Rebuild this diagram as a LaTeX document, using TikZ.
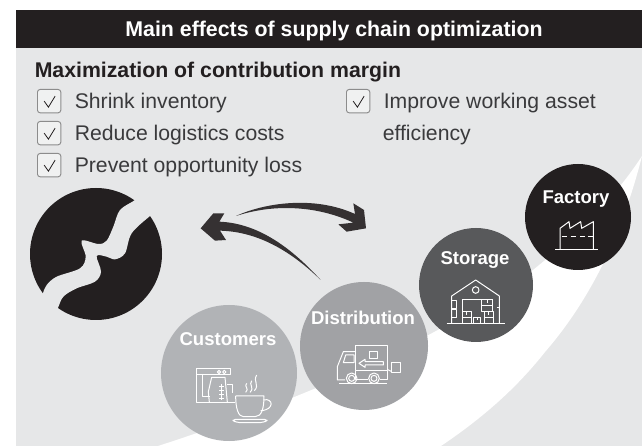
\documentclass[tikz,border=0pt]{standalone}
\usepackage{fontspec}
\usetikzlibrary{calc}
\setmainfont{Liberation Sans}
\definecolor{bggrey}{HTML}{E6E7E8}
\definecolor{ink}{HTML}{231F20}
\definecolor{txt}{HTML}{3A3A3C}
\definecolor{cust}{HTML}{B1B3B6}
\definecolor{dist}{HTML}{A1A2A5}
\definecolor{stor}{HTML}{58595B}
\tikzset{
 x=0.75pt,y=-0.75pt,
 box/.style={draw=black!45,fill=bggrey!60,line width=0.7pt,rounded corners=2pt,minimum size=17.5pt,inner sep=0pt},
 chk/.style={draw=ink,line width=0.6pt},
 item/.style={anchor=base west,inner sep=0pt,font=\fontsize{15.9pt}{18pt}\selectfont,text=txt},
 stage/.style={circle,inner sep=0pt},
 stagetext/.style={inner sep=0pt,text=white,font=\bfseries\fontsize{13.9pt}{15pt}\selectfont},
 ico/.style={draw=white,line width=0.75pt,line join=round},
 zoomed/.style={x=0.25pt,y=-0.25pt},
}
\begin{document}
\begin{tikzpicture}
\useasboundingbox (0,0) rectangle (642,448);
\fill[bggrey] (16,48) rectangle (642,446);
% white swoosh
\fill[white] (155,447) .. controls (300,400) and (430,345) .. (533,270)
  .. controls (570,240) and (610,205) .. (642,156)
  .. controls (622,235) and (590,300) .. (545,352)
  .. controls (515,390) and (480,420) .. (438,448) -- cycle;
\fill[ink] (16,10) rectangle (642,48);
\node[inner sep=0pt,text=white,font=\bfseries\fontsize{16pt}{18pt}\selectfont] (title) at (334,30.5) {Main effects of supply chain optimization};
\node[anchor=base west,inner sep=0pt,text=ink,font=\bfseries\fontsize{15.95pt}{18pt}\selectfont] (head) at (34.5,78) {Maximization of contribution margin};
% checklist
\foreach \n/\x/\y/\t in {a/37/89/Shrink inventory,b/37/121/Reduce logistics costs,c/37/153/Prevent opportunity loss,d/346/89/Improve working asset}{
 \node[box,anchor=north west] (\n) at (\x,\y) {};
 \draw[chk] ($(\n.center)+(-5,0)$) -- ($(\n.center)+(-0.7,6)$) -- ($(\n.center)+(6,-5)$);
 \node[item] (t\n) at (\x+37.5,\y+19.5) {\t};
}
\node[item] (te) at (382.5,140.5) {efficiency};
% blob
\fill[ink] (96,254) circle (66);
\begin{scope}[shift={(20,200)},zoomed]
\fill[bggrey] plot[smooth,tension=0.55] coordinates {(370,-25)(345,0)(300,30)(280,80)(260,122)(235,132)(185,122)(197,170)(180,205)(110,230)(80,255)(68,282)(55,320)}
 -- plot[smooth,tension=0.55] coordinates {(95,350)(113,325)(130,290)(170,265)(225,245)(243,215)(230,168)(260,170)(285,178)(315,160)(335,100)(390,48)(440,10)} -- cycle;
\end{scope}
% arrows
\begin{scope}[shift={(180,190)},zoomed]
\fill[ink!92!white] (168,78) .. controls (250,40) and (400,15) .. (525,72) -- (520,40) -- (552,60) -- (558,115) -- (500,125) -- (475,103) -- (520,98) .. controls (430,55) and (300,35) .. (168,78) -- cycle;
\fill[ink!92!white] (62,115) -- (100,70) -- (133,70) -- (118,95) .. controls (240,100) and (340,180) .. (422,270) .. controls (340,190) and (240,125) .. (120,122) -- (138,150) -- (105,152) -- cycle;
\end{scope}
% stages
\node[stage,fill=cust,minimum size=102pt] (cus) at (229,373) {};
\node[stage,fill=dist,minimum size=96pt] (dis) at (364,346) {};
\node[stage,fill=stor,minimum size=85.5pt] (sto) at (476,285) {};
\node[stage,fill=ink,minimum size=79.5pt] (fac) at (578,217) {};
\node[stagetext] (lc) at (228,339.5) {Customers};
\node[stagetext] (ld) at (363,318) {Distribution};
\node[stagetext] (ls) at (475,260) {Storage};
\node[stagetext] (lf) at (576,199.5) {Factory};
% coffee icon
\begin{scope}[shift={(190,360)},zoomed,ico]
\draw (135,127) -- (20,127) -- (20,27) -- (120,27) -- (120,45) -- (20,45);
\draw (37,45) -- (37,110) -- (60,110);
\draw (87,36) circle (5) (103,36) circle (5);
\draw (65,52) -- (105,52) -- (112,127) (65,52) -- (55,95) -- (58,127);
\draw (110,75) -- (127,75) -- (127,100);
\draw (95,72) -- (95,120) (88,80) -- (102,80) (88,92) -- (102,92) (88,104) -- (102,104) (88,116) -- (102,116);
\draw (137,108) -- (222,108) .. controls (222,145) and (215,170) .. (195,170) -- (160,170) .. controls (145,170) and (137,145) .. (137,108);
\draw (220,120) .. controls (250,112) and (255,150) .. (212,152);
\draw[rounded corners=3pt] (125,178) -- (235,178) -- (222,188) -- (138,188) -- cycle;
\draw (170,70) .. controls (160,80) and (180,85) .. (167,97);
\draw (185,62) .. controls (175,75) and (195,82) .. (180,97);
\draw (200,45) .. controls (188,65) and (210,75) .. (193,92);
\end{scope}
% truck icon
\begin{scope}[shift={(330,340)},zoomed,ico]
\draw (77,17) rectangle (172,92);
\draw (118,35) rectangle (143,55);
\draw (87,70) -- (105,58) -- (105,65) -- (160,65) -- (160,75) -- (105,75) -- (105,82) -- cycle;
\draw (77,35) -- (40,35) -- (22,80) -- (22,120) -- (45,120);
\draw (47,45) -- (72,45) -- (72,68) -- (40,68) -- cycle;
\draw (65,115) circle (16) (65,115) circle (9) (132,115) circle (16) (132,115) circle (9);
\draw (77,92) -- (77,118) -- (115,118) (150,118) -- (172,118) -- (172,92);
\draw (27,132) -- (172,132);
\draw (185,68) rectangle (210,97);
\draw (172,88) -- (185,95);
\end{scope}
% warehouse icon
\begin{scope}[shift={(440,270)},zoomed,ico]
\draw (35,160) -- (35,78) -- (107,30) -- (178,78) -- (178,160);
\draw (20,160) -- (195,160);
\draw (107,60) circle (10);
\draw (67,160) -- (67,88) -- (160,88);
\draw (35,92) rectangle (50,115) (35,120) rectangle (50,143);
\draw (125,88) rectangle (158,125) (125,106) -- (158,106) (142,88) -- (142,100);
\draw (68,125) rectangle (93,160) (68,142) -- (93,142) (80,125) -- (80,135);
\draw (100,142) rectangle (122,160) (111,142) -- (111,150);
\draw (133,125) rectangle (160,160) (133,142) -- (160,142) (146,125) -- (146,135);
\draw (170,113) -- (178,113);
\end{scope}
% factory icon
\begin{scope}[shift={(550,210)},zoomed,ico]
\draw (15,120) -- (145,120);
\draw (30,120) -- (30,55) -- (57,35) -- (60,55) -- (92,35) -- (95,55) -- (130,35) -- (130,120);
\draw (35,80) -- (50,80) (62,80) -- (78,80) (90,80) -- (105,80) (115,80) -- (128,80);
\end{scope}
\end{tikzpicture}
\end{document}
